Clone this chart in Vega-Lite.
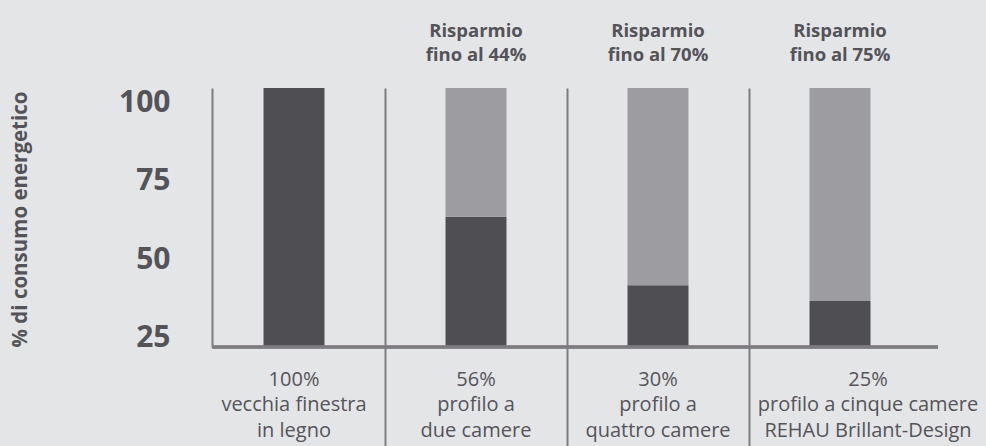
{
  "$schema": "https://vega.github.io/schema/vega-lite/v6.json",
  "width": 726,
  "height": 259,
  "autosize": {"type": "none"},
  "padding": {"left": 212, "top": 88, "right": 48, "bottom": 99},
  "background": "#e4e5e7",
  "config": {"view": {"stroke": null}, "font": "Open Sans"},
  "data": {
    "values": [
      {"category": "100%|vecchia finestra|in legno", "part": "consumo", "start": 22, "end": 104.6},
      {"category": "56%|profilo a|due camere", "part": "consumo", "start": 22, "end": 63.5},
      {"category": "56%|profilo a|due camere", "part": "risparmio", "start": 63.5, "end": 104.6},
      {"category": "30%|profilo a|quattro camere", "part": "consumo", "start": 22, "end": 41.7},
      {"category": "30%|profilo a|quattro camere", "part": "risparmio", "start": 41.7, "end": 104.6},
      {"category": "25%|profilo a cinque camere|REHAU Brillant-Design", "part": "consumo", "start": 22, "end": 36.7},
      {"category": "25%|profilo a cinque camere|REHAU Brillant-Design", "part": "risparmio", "start": 36.7, "end": 104.6}
    ]
  },
  "layer": [
    {
      "mark": {"type": "bar", "width": {"band": 0.335}},
      "encoding": {
        "x": {
          "field": "category", "type": "nominal", "sort": null,
          "scale": {"range": [-9, 719], "paddingInner": 0, "paddingOuter": 0},
          "axis": {
            "orient": "bottom", "title": null, "domain": false, "labelAngle": 0,
            "labelExpr": "split(datum.label, '|')",
            "labelFont": "Open Sans", "labelFontSize": 20, "labelColor": "#555459",
            "labelLineHeight": 25.5, "labelBaseline": "top", "labelPadding": -77,
            "labelLimit": 0, "labelOverlap": false, "labelBound": false, "labelFlush": false,
            "labelOffset": {"condition": {"test": "indexof(datum.value, '25%') === 0", "value": 28}, "value": 0},
            "bandPosition": 0,
            "ticks": true, "tickSize": 99, "tickWidth": 2,
            "tickColor": {"condition": {"test": "indexof(datum.value, '100%') === 0", "value": "transparent"}, "value": "#7d7c80"},
            "grid": true, "gridWidth": 2, "gridOpacity": 1,
            "gridColor": {"condition": {"test": "indexof(datum.value, '100%') === 0", "value": "transparent"}, "value": "#7d7c80"}
          }
        },
        "y": {
          "field": "start", "type": "quantitative",
          "scale": {"domain": [22, 104.6], "zero": false, "nice": false},
          "axis": {
            "title": "% di consumo energetico", "values": [25, 50, 75, 100],
            "domain": true, "domainColor": "#7d7c80", "domainWidth": 2,
            "ticks": false, "grid": false,
            "labelFont": "Open Sans", "labelFontWeight": "bold", "labelFontSize": 30,
            "labelColor": "#545358", "labelPadding": 42,
            "titleFont": "Open Sans", "titleFontWeight": "bold", "titleFontSize": 20.5,
            "titleColor": "#545358", "titleX": -192, "titleY": 131, "titleAngle": 270,
            "titleAlign": "center", "titleBaseline": "middle"
          }
        },
        "y2": {"field": "end"},
        "color": {
          "field": "part", "type": "nominal",
          "scale": {"domain": ["consumo", "risparmio"], "range": ["#4f4e53", "#9d9ca1"]},
          "legend": null
        }
      }
    },
    {
      "mark": {"type": "rule", "color": "#7d7c80", "strokeWidth": 2.5},
      "encoding": {"y": {"datum": 22, "type": "quantitative"}}
    },
    {
      "mark": {"type": "bar", "opacity": 0},
      "encoding": {
        "x": {
          "field": "category", "type": "nominal", "sort": null,
          "scale": {"range": [-9, 719], "paddingInner": 0, "paddingOuter": 0},
          "axis": {
            "orient": "top", "title": null, "domain": false, "ticks": false, "grid": false,
            "labelAngle": 0,
            "labelExpr": "indexof(datum.value,'56%')===0 ? ['Risparmio','fino al 44%'] : indexof(datum.value,'30%')===0 ? ['Risparmio','fino al 70%'] : indexof(datum.value,'25%')===0 ? ['Risparmio','fino al 75%'] : ''",
            "labelFont": "Open Sans", "labelFontWeight": "bold", "labelFontSize": 18.5,
            "labelColor": "#545358", "labelLineHeight": 24.5, "labelBaseline": "bottom",
            "labelPadding": 48, "labelLimit": 0, "labelOverlap": false, "labelBound": false
          }
        }
      }
    }
  ],
  "resolve": {"axis": {"x": "independent"}}
}
